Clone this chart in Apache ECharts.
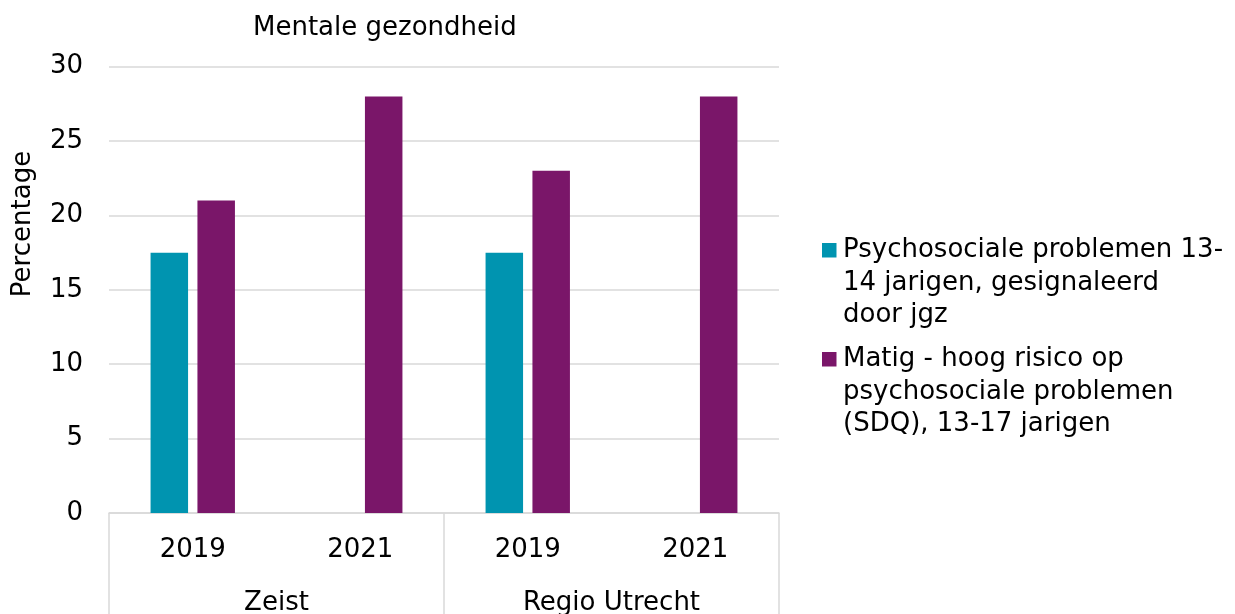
<!DOCTYPE html>
<html lang="nl">
<head>
<meta charset="utf-8" />
<title>Mentale gezondheid</title>
<script src="https://cdn.jsdelivr.net/npm/echarts@6/dist/echarts.min.js"></script>
<style>
  html, body { margin: 0; padding: 0; background: #fff; }
  #chart { width: 1235px; height: 614px; }
</style>
</head>
<body>
<div id="chart"></div>
<script type="text/javascript">
// data
const years = ['2019', '2021', '2019', '2021'];
const regions = ['Zeist', 'Regio Utrecht'];
const seriesNames = [
  'Psychosociale problemen 13-\n14 jarigen, gesignaleerd\ndoor jgz',
  'Matig - hoog risico op\npsychosociale problemen\n(SDQ), 13-17 jarigen'
];
const jgzValues = [17.5, null, 17.5, null];
const sdqValues = [21, 28, 23, 28];
const yTicks = { min: 0, max: 30, interval: 5 };

const FONT = 'DejaVu Sans';
const GRID = '#d9d9d9';
const colors = ['#0094b0', '#7a1669'];

// legend icon: square at first text line, box as high as 3 lines
const legendIcon = 'path://M0,0M16,97.5M0,9L14.5,9L14.5,23.5L0,23.5Z';

const chart = echarts.init(document.getElementById('chart'));

const option = {
  animation: false,
  color: colors,
  textStyle: { fontFamily: FONT, color: '#000' },
  title: {
    text: 'Mentale gezondheid',
    left: 253,
    top: 15,
    padding: 0,
    textStyle: { fontFamily: FONT, fontSize: 26, fontWeight: 'normal', color: '#000' }
  },
  legend: {
    orient: 'vertical',
    left: 822,
    top: 234,
    padding: 0,
    itemWidth: 16,
    itemHeight: 97.5,
    itemGap: 11.5,
    icon: legendIcon,
    selectedMode: false,
    textStyle: { fontFamily: FONT, fontSize: 26, lineHeight: 32.5, color: '#000' },
    data: seriesNames
  },
  grid: {
    left: 109,
    right: 456,
    top: 66.7,
    bottom: 101,
    containLabel: false,
    outerBoundsMode: 'none'
  },
  xAxis: [{
    type: 'category',
    data: years,
    position: 'bottom',
    axisLine: { show: true, lineStyle: { color: GRID, width: 1.5 } },
    axisTick: { show: false },
    axisLabel: { margin: 24, fontFamily: FONT, fontSize: 26, color: '#000' },
    splitLine: { show: false }
  }, {
    type: 'category',
    data: regions,
    position: 'bottom',
    axisLine: { show: false },
    axisTick: { show: true, length: 101, lineStyle: { color: GRID, width: 1.5 } },
    axisLabel: { margin: 77, fontFamily: FONT, fontSize: 26, color: '#000' },
    splitLine: { show: false }
  }],
  yAxis: {
    type: 'value',
    min: yTicks.min,
    max: yTicks.max,
    interval: yTicks.interval,
    axisLine: { show: false },
    axisTick: { show: false },
    axisLabel: { margin: 26, fontFamily: FONT, fontSize: 26, color: '#000' },
    splitLine: { lineStyle: { color: GRID, width: 1.5 } }
  },
  graphic: [{
    type: 'text',
    x: 23,
    y: 224,
    rotation: Math.PI / 2,
    style: {
      text: 'Percentage',
      fontFamily: FONT,
      fontSize: 26,
      fill: '#000',
      align: 'center',
      verticalAlign: 'middle'
    }
  }],
  series: [{
    name: seriesNames[0],
    type: 'bar',
    xAxisIndex: 0,
    data: jgzValues,
    barWidth: 37.5,
    barGap: '25%'
  }, {
    name: seriesNames[1],
    type: 'bar',
    xAxisIndex: 0,
    data: sdqValues,
    barWidth: 37.5,
    barGap: '25%'
  }]
};

chart.setOption(option);
window.onresize = function () {
  chart.resize();
};
</script>
</body>
</html>
